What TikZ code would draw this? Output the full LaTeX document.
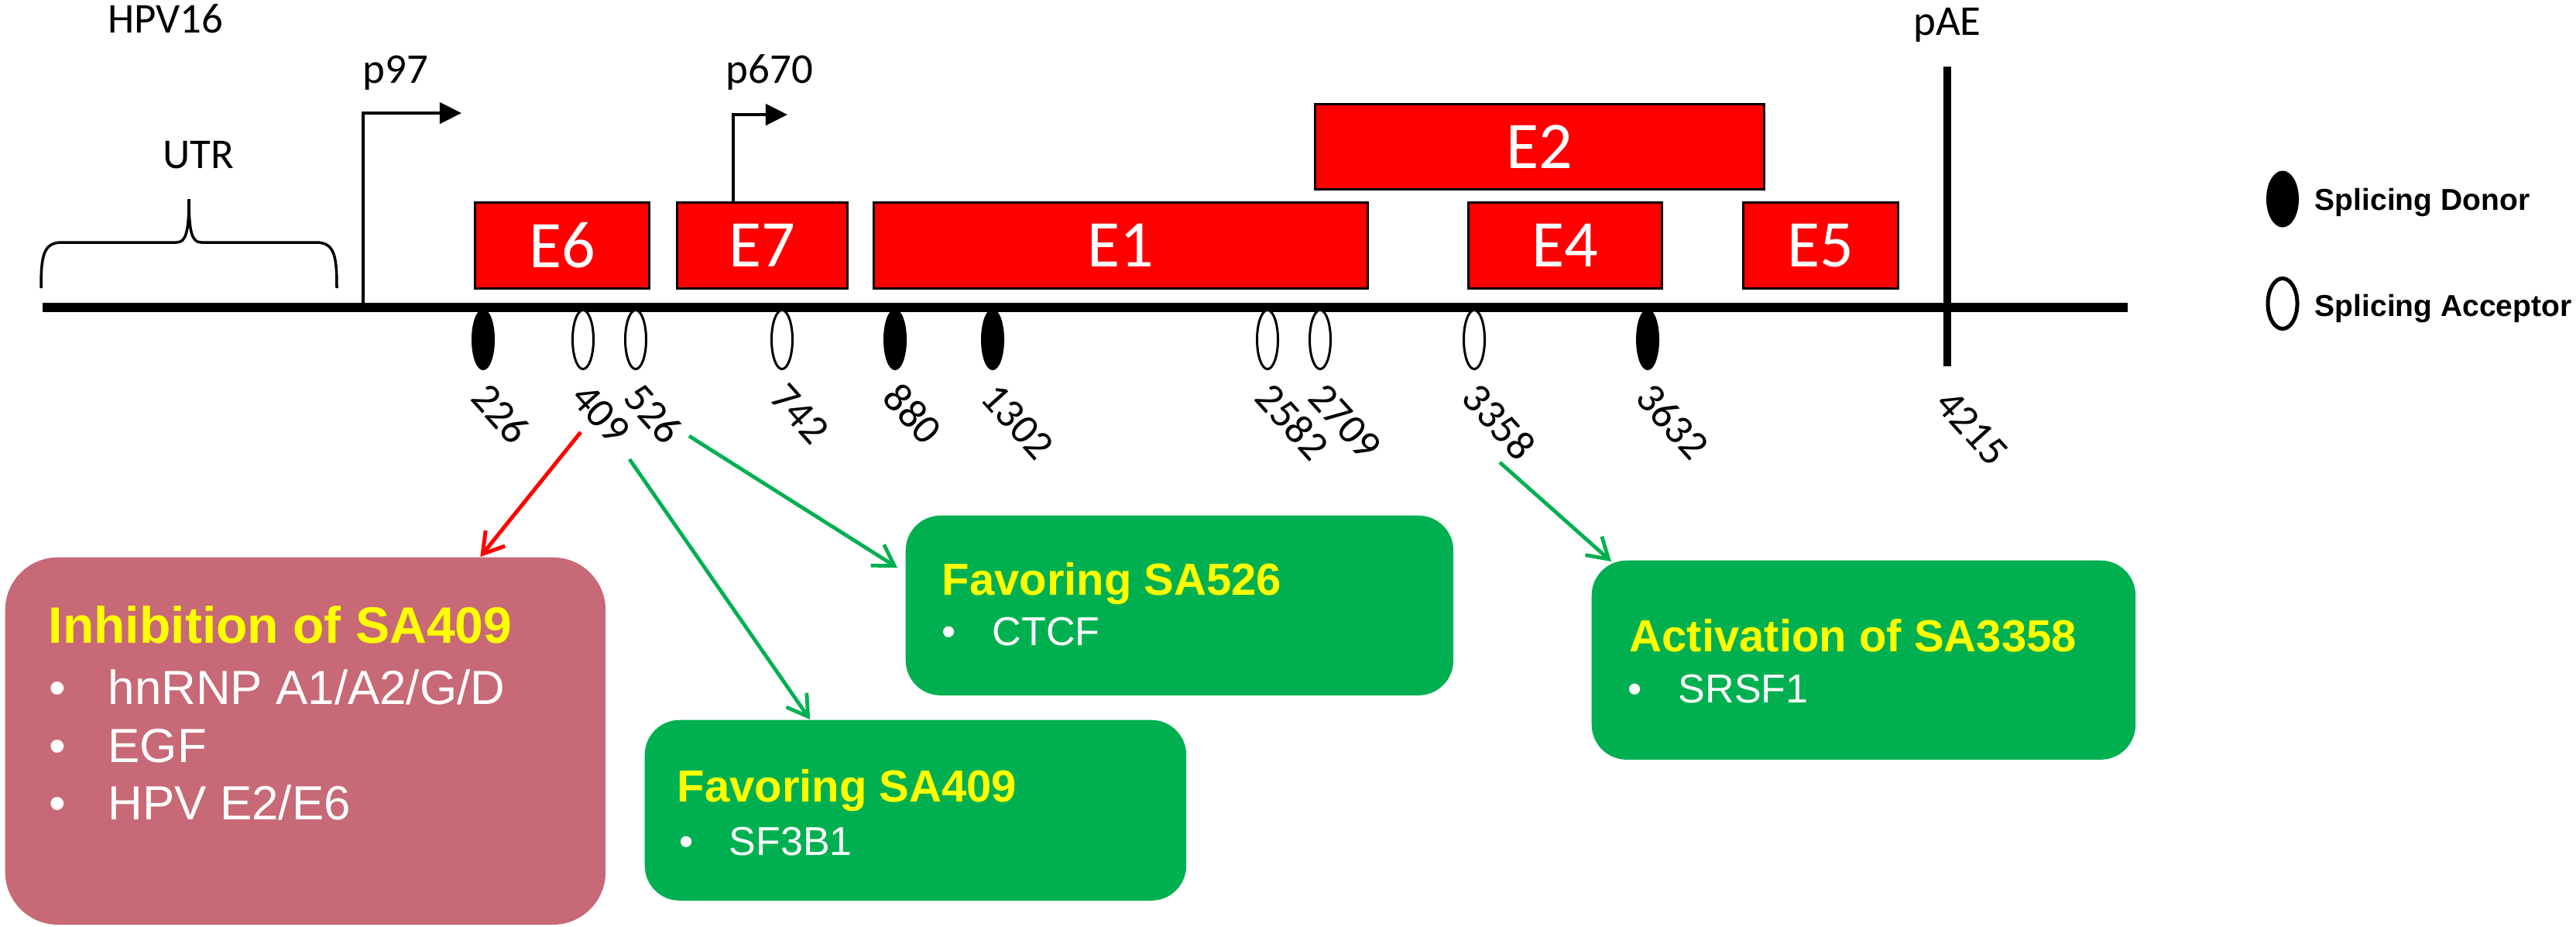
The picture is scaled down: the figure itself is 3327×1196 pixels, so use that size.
\documentclass[tikz,border=0pt]{standalone}
\usepackage{fontspec}
\setmainfont{Carlito}
\newfontfamily\arialf{Liberation Sans}
\usetikzlibrary{arrows.meta,calc,shapes.geometric}
\definecolor{boxred}{RGB}{255,0,0}
\definecolor{pgreen}{RGB}{0,176,80}
\definecolor{ppink}{RGB}{199,105,118}
\definecolor{pyellow}{RGB}{255,255,0}
\begin{document}
\begin{tikzpicture}[x=0.01cm,y=-0.01cm,
  gene/.style={draw=black,line width=0.03cm,fill=boxred,text=white,
    font=\fontsize{24.5}{28}\selectfont,inner sep=0,anchor=north west},
  toplab/.style={font=\fontsize{15.6}{18}\selectfont,inner sep=0,anchor=base},
  numlab/.style={font=\fontsize{15.4}{17}\selectfont,inner sep=0,rotate=-48,anchor=west},
  donor/.style={ellipse,draw=black,fill=black,line width=0.02cm,inner sep=0,
    minimum width=0.28cm,minimum height=0.77cm},
  acc/.style={ellipse,draw=black,fill=white,line width=0.03cm,inner sep=0,
    minimum width=0.27cm,minimum height=0.76cm},
  legtxt/.style={font=\arialf\bfseries\fontsize{11.1}{13}\selectfont,inner sep=0,anchor=base west},
  pinkbox/.style={fill=ppink,rounded corners=0.68cm,inner sep=0,anchor=north west},
  greenbox/.style={fill=pgreen,rounded corners=0.45cm,inner sep=0,anchor=north west},
  bigttl/.style={text=pyellow,font=\arialf\bfseries\fontsize{18.8}{22}\selectfont,inner sep=0,anchor=base west},
  bigitm/.style={text=white,font=\arialf\fontsize{17.6}{21}\selectfont,inner sep=0,anchor=base west},
  gttl/.style={text=pyellow,font=\arialf\bfseries\fontsize{16.5}{19}\selectfont,inner sep=0,anchor=base west},
  gitm/.style={text=white,font=\arialf\fontsize{14.8}{17}\selectfont,inner sep=0,anchor=base west},
  promo/.style={line width=0.045cm,-{Triangle[length=0.28cm,width=0.27cm]}},
  redarrow/.style={draw=boxred,line width=0.05cm,-{Straight Barb[length=0.26cm,width=0.32cm,line width=0.05cm]}},
  garrow/.style={draw=pgreen,line width=0.048cm,-{Straight Barb[length=0.26cm,width=0.32cm,line width=0.048cm]}}
]
\useasboundingbox[fill=white] (0,0) rectangle (3327,1196);

% title labels
\node[toplab] (hpv) at (214,42) {HPV16};
\node[toplab] (p97) at (511,107) {p97};
\node[toplab] (p670) at (994,107) {p670};
\node[toplab] (pae) at (2515,45) {pAE};
\node[toplab] (utr) at (256,217) {UTR};

% brace
\coordinate (bl) at (53,372);
\coordinate (br) at (435,372);
\coordinate (btip) at (244,257);
\draw[line width=0.035cm] (bl) .. controls (53,330) and (56,313) .. (80,313) -- (228,313)
  .. controls (240,313) and (244,300) .. (btip)
  .. controls (244,300) and (248,313) .. (260,313) -- (408,313)
  .. controls (432,313) and (435,330) .. (br);

% main line
\coordinate (mainL) at (55,397);
\coordinate (mainR) at (2748,397);
\draw[line width=0.12cm] (mainL) -- (mainR);

% pAE line
\coordinate (paeT) at (2515,86);
\coordinate (paeB) at (2515,473);
\draw[line width=0.1cm] (paeT) -- (paeB);

% gene boxes
\node[gene,minimum width=2.25cm,minimum height=1.11cm] (e6) at (612,260) {E6};
\node[gene,minimum width=2.20cm,minimum height=1.11cm] (e7) at (873,260) {E7};
\node[gene,minimum width=6.38cm,minimum height=1.11cm] (e1) at (1127,260) {E1};
\node[gene,minimum width=5.80cm,minimum height=1.10cm] (e2) at (1697,133) {E2};
\node[gene,minimum width=2.50cm,minimum height=1.11cm] (e4) at (1895,260) {E4};
\node[gene,minimum width=2.00cm,minimum height=1.11cm] (e5) at (2250,260) {E5};

% promoters
\coordinate (p97b) at (469,397);
\coordinate (p97t) at (469,146);
\coordinate (p97e) at (596,146);
\draw[promo] (p97b) -- (p97t) -- (p97e);
\coordinate (p670b) at (947,260);
\coordinate (p670t) at (947,148);
\coordinate (p670e) at (1017,148);
\draw[promo] (p670b) -- (p670t) -- (p670e);

% splice sites
\foreach \xx/\nn/\kind in {624/226/donor,753/409/acc,821/526/acc,1010/742/acc,
  1156/880/donor,1282/1302/donor,1637/2582/acc,1705/2709/acc,1904/3358/acc,2128/3632/donor}{
  \node[\kind] (s\nn) at (\xx,438.5) {};
  \node[numlab] (n\nn) at ($(s\nn.south)+(-5,25)$) {\nn};
}
\node[numlab] (n4215) at ($(paeB)+(-5,38)$) {4215};

% legend
\node[donor,minimum width=0.40cm,minimum height=0.71cm] (legD) at (2948,257) {};
\node[legtxt] (legDt) at (2989,271) {Splicing Donor};
\node[acc,line width=0.05cm,minimum width=0.38cm,minimum height=0.65cm] (legA) at (2948,392) {};
\node[legtxt] (legAt) at (2989,408) {Splicing Acceptor};

% boxes
\node[pinkbox,minimum width=7.75cm,minimum height=4.74cm] (inh) at (6,719) {};
\node[bigttl] (inhT) at (62,830) {Inhibition of SA409};
\node[bigitm] (inhB1) at (63,909) {•};
\node[bigitm] (inhI1) at (139,909) {hnRNP A1/A2/G/D};
\node[bigitm] (inhB2) at (63,984) {•};
\node[bigitm] (inhI2) at (139,984) {EGF};
\node[bigitm] (inhB3) at (63,1058) {•};
\node[bigitm] (inhI3) at (139,1058) {HPV E2/E6};

\node[greenbox,minimum width=7.07cm,minimum height=2.32cm] (fav526) at (1169,665) {};
\node[gttl] (f526T) at (1216,768) {Favoring SA526};
\node[gitm] (f526B) at (1216,833) {•};
\node[gitm] (f526I) at (1281,833) {CTCF};

\node[greenbox,minimum width=6.99cm,minimum height=2.33cm] (fav409) at (832,929) {};
\node[gttl] (f409T) at (874,1035) {Favoring SA409};
\node[gitm] (f409B) at (877,1104) {•};
\node[gitm] (f409I) at (941,1104) {SF3B1};

\node[greenbox,minimum width=7.02cm,minimum height=2.57cm] (act) at (2055,723) {};
\node[gttl] (actT) at (2104,841) {Activation of SA3358};
\node[gitm] (actB) at (2102,907) {•};
\node[gitm] (actI) at (2167,907) {SRSF1};

% arrows
\coordinate (r0) at (750,558);
\draw[redarrow] (r0) -- ([xshift=6.14cm]inh.north west);
\coordinate (g1) at (813,593);
\draw[garrow] (g1) -- ([xshift=2.14cm]fav409.north west);
\coordinate (g2) at (890,563);
\draw[garrow] (g2) -- ([xshift=-0.1cm,yshift=-0.68cm]fav526.north west);
\coordinate (g3) at (1937,597);
\draw[garrow] (g3) -- ([xshift=0.26cm,yshift=-0.02cm]act.north west);
\end{tikzpicture}
\end{document}
